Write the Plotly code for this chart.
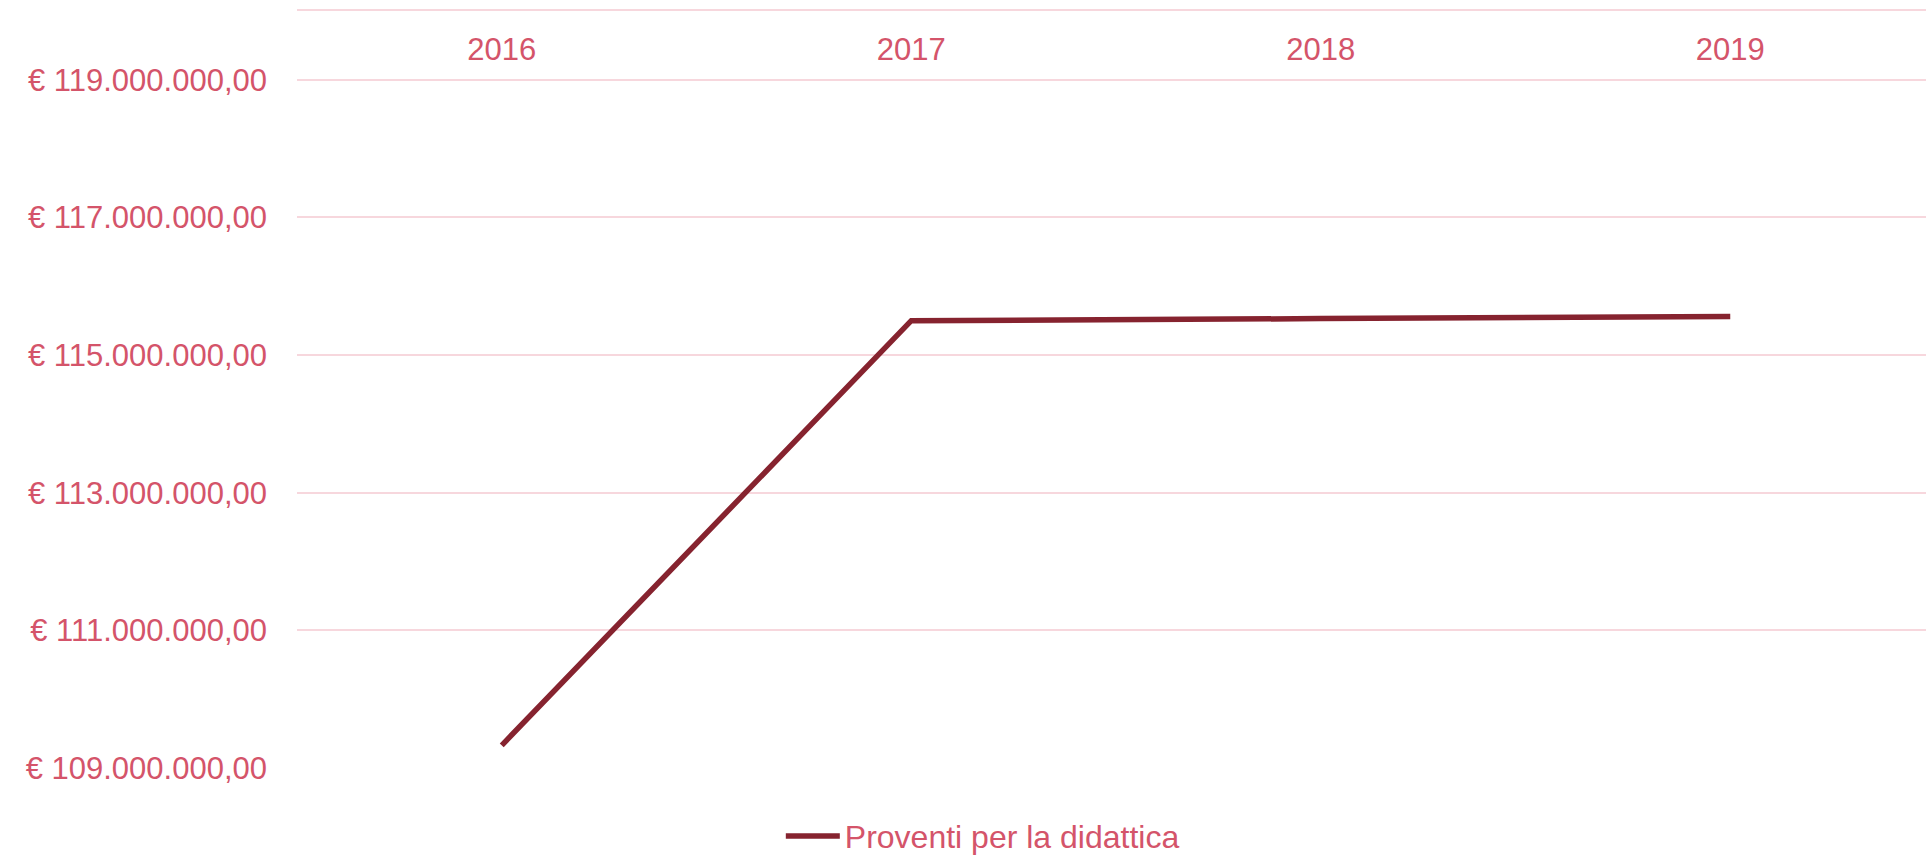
import plotly.graph_objects as go

# Dati
anni = ["2016", "2017", "2018", "2019"]
proventi = [109330000, 115500000, 115530000, 115560000]

colore_testo = "#D4546A"
colore_linea = "#86232F"
colore_griglia = "#F7D7DD"
font_base = "Liberation Sans, Arial, sans-serif"

fig = go.Figure()

fig.add_trace(go.Scatter(
    x=anni,
    y=proventi,
    mode="lines",
    name="Proventi per la didattica",
    line=dict(color=colore_linea, width=5.5),
))

fig.update_layout(
    width=1926,
    height=855,
    margin=dict(l=297, r=0, t=11, b=87, autoexpand=False),
    paper_bgcolor="white",
    plot_bgcolor="white",
    separators=",.",
    font=dict(family=font_base, size=31, color=colore_testo),
    showlegend=True,
    legend=dict(
        orientation="h",
        x=0.297, xanchor="left",
        y=-0.09, yanchor="middle",
        font=dict(family=font_base, size=32, color=colore_testo),
        itemwidth=54,
    ),
    xaxis=dict(
        type="category",
        side="top",
        range=[-0.5, 3.478],
        showgrid=False,
        showline=True,
        linecolor=colore_griglia,
        linewidth=2,
        ticks="",
        ticklabelposition="inside",
        ticklabelstandoff=31,
        tickfont=dict(family=font_base, size=31, color=colore_testo),
        zeroline=False,
        automargin=False,
    ),
    yaxis=dict(
        range=[109e6, 120e6],
        tick0=109e6,
        dtick=2e6,
        tickformat=",.2f",
        tickprefix="€ ",
        showgrid=True,
        gridcolor=colore_griglia,
        gridwidth=2,
        zeroline=False,
        ticks="",
        ticklabelstandoff=29,
        tickfont=dict(family=font_base, size=31, color=colore_testo),
        automargin=False,
    ),
)

fig.write_html(
    "out.html",
    config={"displayModeBar": False},
    post_script="document.body.style.margin='0';document.body.style.overflow='hidden';",
)
